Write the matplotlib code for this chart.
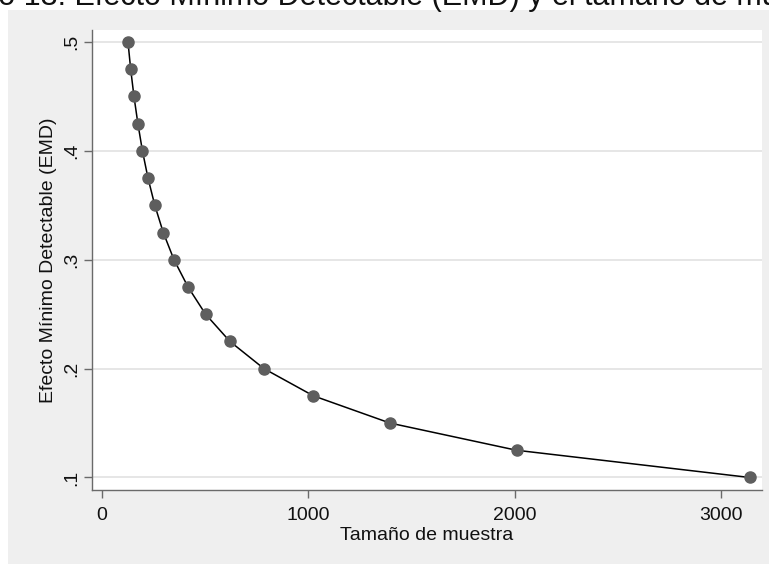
import matplotlib
matplotlib.use("Agg")
import matplotlib.pyplot as plt
from matplotlib.patches import Rectangle

plt.rcParams['font.family'] = ['Liberation Sans', 'DejaVu Sans']

# Data
sample_size = [126, 139, 155, 174, 196, 223, 256, 297, 349, 417, 502, 620, 785, 1025, 1396, 2010, 3140]
mde = [0.500, 0.475, 0.450, 0.425, 0.400, 0.375, 0.350, 0.325, 0.300, 0.275,
       0.250, 0.225, 0.200, 0.175, 0.150, 0.125, 0.100]
x_ticks = [0, 1000, 2000, 3000]
x_tick_labels = ['0', '1000', '2000', '3000']
y_ticks = [0.1, 0.2, 0.3, 0.4, 0.5]
y_tick_labels = ['.1', '.2', '.3', '.4', '.5']
title = 'Gráfico 13. Efecto Mínimo Detectable (EMD) y el tamaño de muestra'
xlabel = 'Tamaño de muestra'
ylabel = 'Efecto Mínimo Detectable (EMD)'

W, H = 769, 564
fig = plt.figure(figsize=(W / 100, H / 100), dpi=100)
fig.patch.set_facecolor('white')

# gray graph region
fig.patches.append(Rectangle((8 / W, 0), 1 - 8 / W, (H - 10) / H,
                             transform=fig.transFigure, facecolor='#efefef',
                             edgecolor='none', zorder=-10))

ax = fig.add_axes([92 / W, 1 - 490 / H, (762 - 92) / W, (490 - 30) / H])
ax.set_facecolor('white')

ax.plot(sample_size, mde, color='black', linewidth=1.1, zorder=3,
        marker='o', markersize=8, markerfacecolor='#5e5e5e',
        markeredgecolor='#5e5e5e')

ax.set_xlim(-48.5, 3200)
ax.set_ylim(0.0885, 0.511)
ax.set_xticks(x_ticks)
ax.set_xticklabels(x_tick_labels)
ax.set_yticks(y_ticks)
ax.set_yticklabels(y_tick_labels, rotation=90, va='center')

ax.yaxis.grid(True, color='#e6e6e6', linewidth=1.4, zorder=0)
ax.xaxis.grid(False)
ax.set_axisbelow(True)

for s in ['top', 'right']:
    ax.spines[s].set_visible(False)
for s in ['left', 'bottom']:
    ax.spines[s].set_color('#6a6a6a')
    ax.spines[s].set_linewidth(1.0)

ax.tick_params(axis='x', length=5.5, width=1.0, color='#6a6a6a',
               labelsize=14, pad=6.5, labelcolor='#111111')
ax.tick_params(axis='y', length=5.5, width=1.0, color='#6a6a6a',
               labelsize=14, pad=3.0, labelcolor='#111111')

ax.set_xlabel(xlabel, fontsize=14, labelpad=2.5, color='#111111')
ax.set_ylabel(ylabel, fontsize=14, labelpad=4.5, color='#111111')

fig.text(0.497, 1 - 5 / H, title, ha='center', va='baseline',
         fontsize=22, color='#111111')

fig.savefig('out.png', dpi=100)
